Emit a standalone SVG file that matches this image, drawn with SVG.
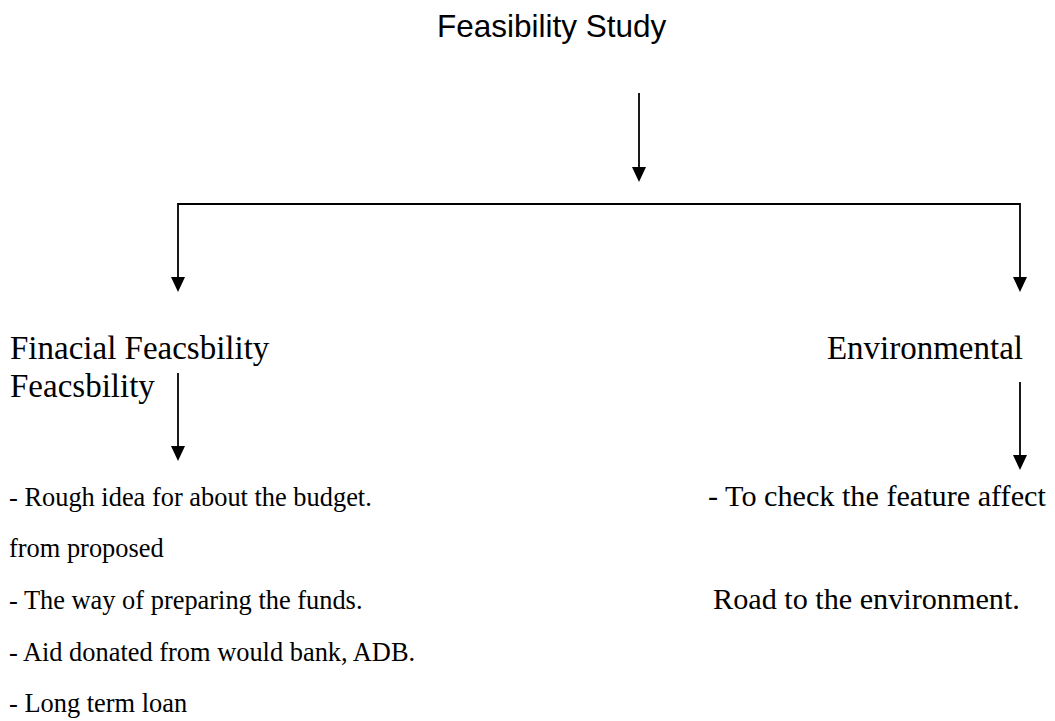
<svg xmlns="http://www.w3.org/2000/svg" width="1055" height="721" viewBox="0 0 1055 721">
<defs>
<marker id="ah" markerUnits="userSpaceOnUse" markerWidth="16" markerHeight="15" refX="1" refY="7" orient="auto" viewBox="0 0 16 15">
<path d="M0,0 L15,7 L0,14 z" fill="#000"/>
</marker>
<style>
.title{font-family:"Liberation Sans",Arial,sans-serif;font-size:31.5px;fill:#000}
.head{font-family:"Liberation Serif","Times New Roman",serif;font-size:33px;fill:#000}
.body{font-family:"Liberation Serif","Times New Roman",serif;font-size:26.4px;fill:#000}
.bodyr{font-family:"Liberation Serif","Times New Roman",serif;font-size:30.2px;fill:#000}
.conn{fill:none;stroke:#000;stroke-width:1.8;marker-end:url(#ah)}
</style>
</defs>
<rect width="1055" height="721" fill="#fff"/>
<g id="connectors">
<path class="conn" d="M639,93 V168"/>
<path class="conn" d="M610,204 H178 V278"/>
<path class="conn" d="M610,204 H1020 V278"/>
<path class="conn" d="M178,373 V447"/>
<path class="conn" d="M1020,382 V456"/>
</g>
<g id="node-feasibility-study">
<text class="title" x="437" y="37">Feasibility Study</text>
</g>
<g id="node-financial">
<text class="head" x="10" y="359">Finacial Feacsbility</text>
<text class="head" x="10" y="397">Feacsbility</text>
</g>
<g id="node-environmental">
<text class="head" x="1023" y="359" text-anchor="end">Environmental</text>
</g>
<g id="node-financial-details">
<text class="body" x="9" y="506">- Rough idea for about the budget.</text>
<text class="body" x="9" y="557">from proposed</text>
<text class="body" x="9" y="609">- The way of preparing the funds.</text>
<text class="body" x="9" y="661">- Aid donated from would bank, ADB.</text>
<text class="body" x="9" y="712">- Long term loan</text>
</g>
<g id="node-environmental-details">
<text class="bodyr" x="708" y="506">- To check the feature affect</text>
<text class="bodyr" x="713" y="609">Road to the environment.</text>
</g>
</svg>
